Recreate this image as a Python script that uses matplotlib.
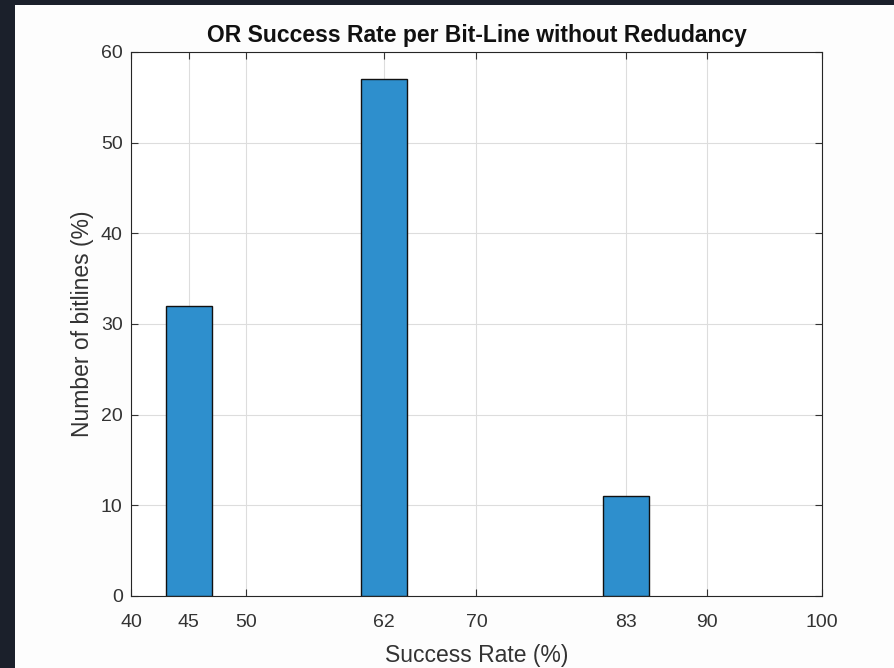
import matplotlib
matplotlib.use('Agg')
import matplotlib.pyplot as plt
from matplotlib.patches import Rectangle

# data
rates = [45, 62, 83]
bitlines = [32, 57, 11]
xticks = [40, 45, 50, 62, 70, 83, 90, 100]
yticks = [0, 10, 20, 30, 40, 50, 60]

plt.rcParams['font.family'] = ['Liberation Sans', 'DejaVu Sans']

fig = plt.figure(figsize=(8.95, 6.68), dpi=100)
fig.patch.set_facecolor('#fdfdfd')

# dark frame on the top and left edges of the screenshot
fig.patches.append(Rectangle((0, 0), 15 / 895., 1, transform=fig.transFigure,
                             facecolor='#1b202b', edgecolor='none', zorder=-1))
fig.patches.append(Rectangle((0, 1 - 5 / 668.), 1, 5 / 668., transform=fig.transFigure,
                             facecolor='#1b202b', edgecolor='none', zorder=-1))

ax = fig.add_axes([131 / 895., 1 - 596 / 668., 691 / 895., 544 / 668.])
ax.bar(rates, bitlines, width=4, color='#2e8fcd', edgecolor='#111111', linewidth=1.0, zorder=3)

ax.set_xlim(40, 100)
ax.set_ylim(0, 60)
ax.set_xticks(xticks)
ax.set_yticks(yticks)
ax.grid(True, color='#dddddd', linewidth=0.8, zorder=0)
ax.set_axisbelow(True)

ax.tick_params(direction='in', top=True, right=True, length=5, width=0.8,
               labelsize=14, colors='#333333')
ax.tick_params(axis='x', pad=13)
ax.tick_params(axis='y', pad=6)
for side in ax.spines.values():
    side.set_color('#262626')
    side.set_linewidth(0.8)

ax.set_xlabel('Success Rate (%)', fontsize=16.5, color='#333333', labelpad=9)
ax.set_ylabel('Number of bitlines (%)', fontsize=16.5, color='#333333', labelpad=5)
ax.set_title('OR Success Rate per Bit-Line without Redudancy', fontsize=16.5,
             fontweight='bold', color='#111111', pad=7)

fig.savefig('out.png', dpi=100, facecolor=fig.get_facecolor())
